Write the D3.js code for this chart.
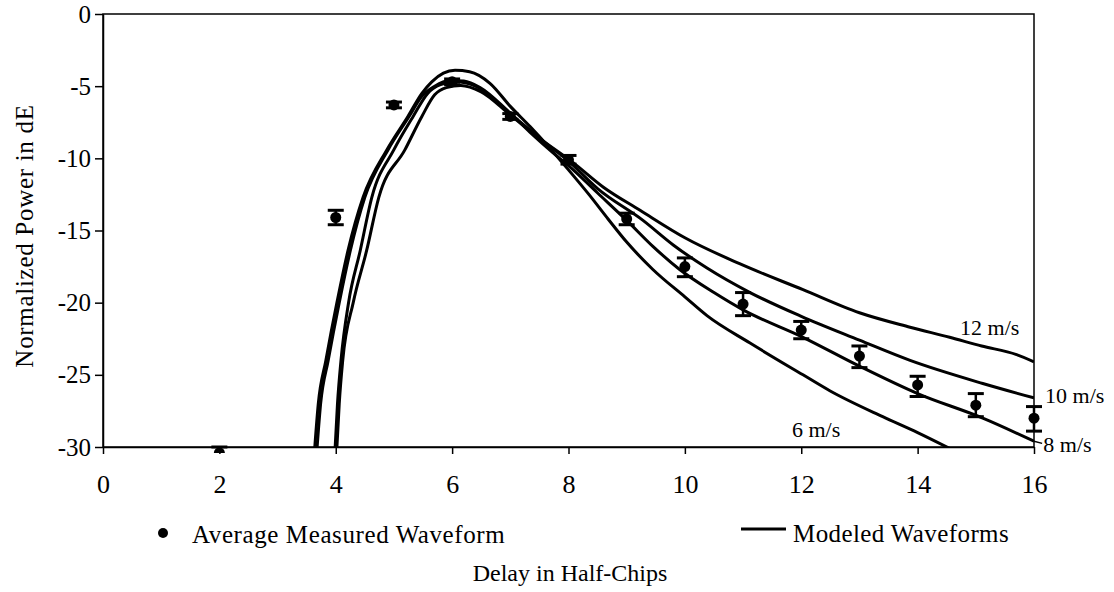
<!DOCTYPE html>
<html><head><meta charset="utf-8">
<script src="https://cdn.jsdelivr.net/npm/d3@7"></script>
<style>
html,body{margin:0;padding:0;background:#fff;}
svg text{font-family:"Liberation Serif","Times New Roman",serif;fill:#000;}
</style></head>
<body><svg id="chart" width="1114" height="592"></svg>
<script>
// ---- data ----
const xTicks = [0, 2, 4, 6, 8, 10, 12, 14, 16];
const yTicks = [0, -5, -10, -15, -20, -25, -30];
const delays   = [2, 4, 5, 6, 7, 8, 9, 10, 11, 12, 13, 14, 15, 16];
const measured = [-30.4, -14.1, -6.3, -4.7, -7.1, -10.1, -14.2, -17.5, -20.1, -21.9, -23.7, -25.7, -27.1, -28.0];
const errUp    = [0.4, 0.5, 0.2, 0.2, 0.2, 0.3, 0.4, 0.6, 0.8, 0.6, 0.7, 0.6, 0.8, 0.8];
const errDown  = [0.3, 0.5, 0.2, 0.2, 0.2, 0.3, 0.4, 0.7, 0.8, 0.6, 0.8, 0.8, 0.8, 0.9];

const model6 = [[3.64,-30],[3.70,-27],[3.83,-24],[4.02,-20],[4.21,-16.4],[4.47,-12.7],[4.88,-9.4],[5.24,-7.1],[5.48,-5.5],[5.65,-4.7],[5.85,-4.1],[6.05,-3.9],[6.3,-4.0],[6.65,-4.8],[7.0,-6.4],[7.34,-7.8],[7.68,-9.3],[8.0,-10.8],[8.35,-12.5],[8.68,-14.2],[9.0,-15.8],[9.45,-17.7],[10.0,-19.6],[10.38,-20.9],[11.12,-22.8],[12.03,-25.0],[12.49,-26.1],[13.4,-27.9],[14.0,-29.0],[14.6,-30.2]];
const model8 = [[3.68,-30],[3.74,-27],[3.87,-24],[4.06,-20],[4.25,-16.4],[4.5,-12.7],[4.9,-9.4],[5.26,-7.1],[5.48,-5.7],[5.7,-5.0],[5.95,-4.6],[6.2,-4.65],[6.48,-5.1],[6.94,-6.65],[7.34,-8.2],[7.73,-9.6],[8.0,-10.5],[8.5,-12.4],[9.0,-14.3],[9.45,-16.1],[9.91,-17.7],[10.5,-19.3],[11.0,-20.5],[12.03,-22.4],[13.0,-24.4],[14.0,-26.3],[15.12,-28.0],[16.0,-29.6]];
const model10 = [[3.99,-30],[4.03,-27],[4.09,-24],[4.22,-20],[4.42,-16.4],[4.62,-12.7],[5.0,-9.4],[5.33,-7.1],[5.58,-5.5],[5.8,-4.9],[6.05,-4.7],[6.4,-5.0],[7.0,-6.9],[7.5,-8.6],[8.0,-10.2],[8.5,-12.1],[9.28,-14.3],[9.8,-16.0],[10.38,-17.6],[11.12,-19.3],[12.0,-20.95],[13.0,-22.6],[13.87,-24.0],[15.12,-25.6],[16.0,-26.6]];
const model12 = [[4.02,-30],[4.06,-27],[4.12,-24],[4.30,-20],[4.53,-16.4],[4.74,-12.7],[5.19,-9.4],[5.48,-7.1],[5.70,-5.6],[5.9,-5.1],[6.15,-4.95],[6.5,-5.4],[7.0,-7.0],[7.5,-8.6],[8.08,-10.3],[8.6,-12.0],[9.23,-13.6],[10.0,-15.5],[10.94,-17.3],[12.03,-19.1],[13.0,-20.7],[13.87,-21.7],[14.55,-22.4],[15.1,-23.0],[15.7,-23.6],[16.0,-24.1]];
const models = [model6, model8, model10, model12];
const speedLabels = ["6 m/s", "8 m/s", "10 m/s", "12 m/s"];
const labelAt = [[11.84, -29.3], [16.16, -30.35], [16.19, -26.95], [14.73, -22.24]];

// ---- layout ----
const svg = d3.select("#chart");
const L = 103, R = 1034, T = 14, B = 447;
const SERIF = '"Liberation Serif","Times New Roman",serif';
const x = d3.scaleLinear().domain([0, 16]).range([L, R]);
const y = d3.scaleLinear().domain([-30, 0]).range([B, T]);

svg.append("defs").append("clipPath").attr("id", "plotclip")
  .append("rect").attr("x", L).attr("y", T).attr("width", R - L).attr("height", B - T);
svg.append("defs").append("clipPath").attr("id", "markclip")
  .append("rect").attr("x", 0).attr("y", 0).attr("width", 1114).attr("height", B + 6);

// frame
svg.append("rect").attr("x", L).attr("y", T).attr("width", R - L).attr("height", B - T)
  .attr("fill", "none").attr("stroke", "#000").attr("stroke-width", 1.5);

// axes
const yAxis = svg.append("g").attr("transform", `translate(${L},0)`)
  .call(d3.axisLeft(y).tickValues(yTicks).tickSize(8).tickSizeOuter(0).tickPadding(4).tickFormat(d => String(d)));
yAxis.attr("font-family", SERIF);
yAxis.selectAll("text").style("font-family", SERIF).style("font-size", "25px").attr("fill", "#000");
const xAxis = svg.append("g").attr("transform", `translate(0,${B})`)
  .call(d3.axisBottom(x).tickValues(xTicks).tickSize(7).tickSizeOuter(0).tickFormat(d => String(d)));
xAxis.attr("font-family", SERIF);
xAxis.selectAll("text").style("font-family", SERIF).style("font-size", "26px").attr("dy", "0").attr("y", 46).attr("fill", "#000");
svg.selectAll(".domain").attr("stroke", "#000").attr("stroke-width", 1.5);
svg.selectAll(".tick line").attr("stroke", "#000").attr("stroke-width", 1.5);

// model curves
const line = d3.line().x(d => x(d[0])).y(d => y(d[1])).curve(d3.curveMonotoneX);
svg.append("g").attr("clip-path", "url(#plotclip)")
  .selectAll("path").data(models).join("path")
  .attr("d", line).attr("fill", "none").attr("stroke", "#000")
  .attr("stroke-width", 3).attr("stroke-linejoin", "round");

// measured points with error bars
const pts = delays.map((d, i) => ({ d, v: measured[i], up: errUp[i], dn: errDown[i] }));
const mg = svg.append("g").attr("clip-path", "url(#markclip)");
const pg = mg.selectAll("g").data(pts).join("g");
pg.append("line").attr("x1", p => x(p.d)).attr("x2", p => x(p.d))
  .attr("y1", p => y(p.v + p.up)).attr("y2", p => y(p.v - p.dn))
  .attr("stroke", "#000").attr("stroke-width", 2.5);
pg.append("line").attr("x1", p => x(p.d) - 8).attr("x2", p => x(p.d) + 8)
  .attr("y1", p => y(p.v + p.up)).attr("y2", p => y(p.v + p.up))
  .attr("stroke", "#000").attr("stroke-width", 3);
pg.append("line").attr("x1", p => x(p.d) - 8).attr("x2", p => x(p.d) + 8)
  .attr("y1", p => y(p.v - p.dn)).attr("y2", p => y(p.v - p.dn))
  .attr("stroke", "#000").attr("stroke-width", 3);
pg.append("circle").attr("cx", p => x(p.d)).attr("cy", p => y(p.v)).attr("r", 5.5).attr("fill", "#000");

// speed labels
svg.selectAll("text.speed").data(speedLabels).join("text").attr("class", "speed")
  .attr("x", (d, i) => x(labelAt[i][0])).attr("y", (d, i) => y(labelAt[i][1]))
  .style("font-size", "22px").text(d => d);
// small leader for 8 m/s label
svg.append("line").attr("x1", x(16)).attr("x2", x(16.14))
  .attr("y1", y(-29.6)).attr("y2", y(-29.75)).attr("stroke", "#000").attr("stroke-width", 1.5);

// y axis title
svg.append("text").attr("transform", "translate(33,236) rotate(-90)")
  .attr("text-anchor", "middle").style("font-size", "25px").style("letter-spacing", "0.7px")
  .text("Normalized Power in dE");

// legend
svg.append("circle").attr("cx", 163).attr("cy", 533).attr("r", 5).attr("fill", "#000");
svg.append("text").attr("x", 192).attr("y", 543).style("font-size", "25px").style("letter-spacing", "0.6px")
  .text("Average Measured Waveform");
svg.append("line").attr("x1", 741).attr("x2", 786).attr("y1", 529).attr("y2", 529)
  .attr("stroke", "#000").attr("stroke-width", 3);
svg.append("text").attr("x", 793).attr("y", 542).style("font-size", "25px").style("letter-spacing", "0.4px")
  .text("Modeled Waveforms");

// x axis title
svg.append("text").attr("x", 570).attr("y", 581).attr("text-anchor", "middle")
  .style("font-size", "24px").text("Delay in Half-Chips");
</script></body></html>
